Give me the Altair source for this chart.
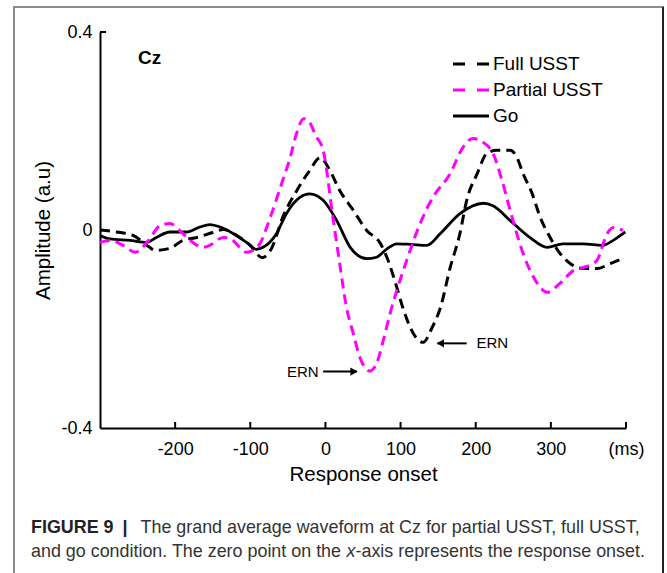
import altair as alt
import pandas as pd

# ---------------- data ----------------
t_full = [-300, -278, -256, -234, -227, -207, -190, -171, -150, -136, -118, -100, -84, -71, -57, -38, -21, -7, 6, 19,
          37, 55, 73, 82, 95, 103, 117, 130, 142, 153, 166, 179, 188, 202, 215, 228, 246, 255, 263, 275,
          286, 299, 312, 326, 343, 361, 379, 395]
v_full = [0.000, -0.004, -0.011, -0.035, -0.041, -0.037, -0.021, -0.015, -0.005, 0.001, -0.011, -0.031, -0.056, -0.035,
          0.025, 0.080, 0.120, 0.146, 0.120, 0.080, 0.040, -0.001, -0.027, -0.056, -0.116, -0.157, -0.209, -0.227,
          -0.197, -0.157, -0.076, -0.007, 0.060, 0.114, 0.155, 0.161, 0.161, 0.146, 0.114, 0.074, 0.025, -0.015,
          -0.047, -0.068, -0.078, -0.078, -0.068, -0.058]

t_partial = [-300, -287, -269, -253, -235, -220, -207, -194, -180, -163, -154, -136, -127, -114, -105, -96, -87, -74,
             -60, -47, -38, -29, -21, -13, -3, 10, 19, 28, 37, 46, 54, 59, 68, 77, 86, 95, 108, 126, 143, 166,
             183, 196, 210, 223, 235, 246, 263, 282, 295, 312, 330, 343, 361, 375, 383, 396]
v_partial = [-0.025, -0.021, -0.031, -0.045, -0.020, 0.009, 0.013, -0.001, -0.021, -0.035, -0.031, -0.015, -0.017,
             -0.035, -0.045, -0.041, -0.027, 0.023, 0.086, 0.146, 0.197, 0.225, 0.217, 0.191, 0.161, 0.025, -0.068,
             -0.156, -0.209, -0.258, -0.280, -0.285, -0.270, -0.223, -0.169, -0.122, -0.062, 0.013, 0.066, 0.114,
             0.167, 0.185, 0.177, 0.155, 0.100, 0.039, -0.047, -0.108, -0.126, -0.108, -0.082, -0.076, -0.062,
             -0.007, 0.005, -0.001]

t_go = [-300, -287, -260, -238, -225, -207, -185, -167, -154, -140, -123, -105, -92, -83, -65, -52, -34, -21, -3, 15,
        33, 55, 68, 82, 95, 113, 135, 153, 179, 210, 223, 246, 272, 295, 316, 343, 369, 383, 399]
v_go = [-0.011, -0.018, -0.021, -0.025, -0.015, -0.004, -0.004, 0.006, 0.011, 0.006, -0.007, -0.025, -0.039, -0.035,
        -0.007, 0.033, 0.066, 0.073, 0.060, 0.019, -0.035, -0.058, -0.055, -0.038, -0.028, -0.029, -0.031, -0.007,
        0.033, 0.054, 0.049, 0.019, -0.015, -0.035, -0.028, -0.028, -0.031, -0.021, -0.004]

series_names = ["Full USST", "Partial USST", "Go"]
x_ticks = [-200, -100, 0, 100, 200, 300, 400]
y_ticks = [-0.4, 0, 0.4]

# ERN annotations (time, amplitude)
ern_arrow_t = [188, 149]      # full: arrow from right to left
ern_arrow_v = [-0.229, -0.229]
ern2_arrow_t = [-3, 42]       # partial: arrow from left to right
ern2_arrow_v = [-0.286, -0.286]

caption1_bold = "FIGURE 9"
caption1_rest = "The grand average waveform at Cz for partial USST, full USST,"
caption2_a = "and go condition. The zero point on the"
caption2_b = "-axis represents the response onset."

FONT = "Liberation Sans"
W, H = 526, 396

xs = alt.Scale(domain=[-300, 400], nice=False, zero=False)
ys = alt.Scale(domain=[-0.4, 0.4], nice=False, zero=False)

x_label_expr = "datum.value == 400 ? '(ms)' : (datum.value < 0 ? '-' : '') + format(abs(datum.value), 'd')"
y_label_expr = "datum.value == 0 ? '0' : (datum.value < 0 ? '-' : '') + format(abs(datum.value), '.1f')"
x_axis = alt.Axis(values=x_ticks, labelExpr=x_label_expr, ticks=False, domainColor="black", domainWidth=2,
                  labelFont=FONT, labelFontSize=18, labelColor="black", labelPadding=12,
                  title="Response onset", titleFont=FONT, titleFontSize=20.5, titleFontWeight="normal",
                  titleColor="black", titlePadding=6, grid=False, labelFlush=False)
y_axis = alt.Axis(values=y_ticks, labelExpr=y_label_expr, ticks=False, domainColor="black", domainWidth=2,
                  labelFont=FONT, labelFontSize=18, labelColor="black", labelPadding=8,
                  title="Amplitude (a.u)", titleFont=FONT, titleFontSize=20.5, titleFontWeight="normal",
                  titleColor="black", titlePadding=7, grid=False, labelFlush=False)


def X():
    return alt.X("t:Q", scale=xs, axis=x_axis)


def Y():
    return alt.Y("v:Q", scale=ys, axis=y_axis)


def line_layer(t, v, color, dash=None, width=3.0):
    df = pd.DataFrame({"t": t, "v": v})
    kw = dict(color=color, strokeWidth=width, interpolate="monotone")
    if dash:
        kw["strokeDash"] = dash
    return alt.Chart(df).mark_line(**kw).encode(x=X(), y=Y())


# inward tick marks
xtick_df = pd.DataFrame({"t": x_ticks})
xtick_layer = alt.Chart(xtick_df).mark_rule(color="black", strokeWidth=2).encode(
    x=X(), y=alt.value(H), y2=alt.value(H - 6))
ytick_df = pd.DataFrame({"v": [0, 0.4]})
ytick_layer = alt.Chart(ytick_df).mark_rule(color="black", strokeWidth=2).encode(
    y=Y(), x=alt.value(0), x2=alt.value(6))

full = line_layer(t_full, v_full, "black", dash=[10, 6])
partial = line_layer(t_partial, v_partial, "#ff00ff", dash=[10, 6])
go = line_layer(t_go, v_go, "black", width=2.8)


def arrow(t, v, head_t, shape):
    df = pd.DataFrame({"t": t, "v": v})
    shaft = alt.Chart(df).mark_line(color="black", strokeWidth=2).encode(x=X(), y=Y())
    hdf = pd.DataFrame({"t": [head_t], "v": [v[0]]})
    head = alt.Chart(hdf).mark_point(shape=shape, filled=True, color="black", size=70, opacity=1).encode(
        x=X(), y=Y())
    return shaft + head


arrow1 = arrow(ern_arrow_t, ern_arrow_v, ern_arrow_t[1] + 4, "triangle-left")
arrow2 = arrow(ern2_arrow_t, ern2_arrow_v, ern2_arrow_t[1] - 4, "triangle-right")

ern_text1 = alt.Chart(pd.DataFrame({"t": [201], "v": [ern_arrow_v[0]], "s": ["ERN"]})).mark_text(
    align="left", baseline="middle", font=FONT, fontSize=15, color="black").encode(x=X(), y=Y(), text="s:N")
ern_text2 = alt.Chart(pd.DataFrame({"t": [-9], "v": [ern2_arrow_v[0]], "s": ["ERN"]})).mark_text(
    align="right", baseline="middle", font=FONT, fontSize=15, color="black").encode(x=X(), y=Y(), text="s:N")

# "Cz" label
cz = alt.Chart(pd.DataFrame({"s": ["Cz"]})).mark_text(
    align="left", baseline="middle", font=FONT, fontSize=19, fontWeight="bold", color="black").encode(
    x=alt.value(38), y=alt.value(26), text="s:N")

# legend (manual)
leg_y = [32, 58, 84]
leg_layers = []
leg_styles = [("black", [12, 12]), ("#ff00ff", [12, 12]), ("black", None)]
for name, yy, (col, dash) in zip(series_names, leg_y, leg_styles):
    kw = dict(color=col, strokeWidth=3)
    if dash:
        kw["strokeDash"] = dash
    leg_layers.append(alt.Chart(pd.DataFrame({"s": [name]})).mark_rule(**kw).encode(
        x=alt.value(353), x2=alt.value(389), y=alt.value(yy)))
    leg_layers.append(alt.Chart(pd.DataFrame({"s": [name]})).mark_text(
        align="left", baseline="middle", font=FONT, fontSize=19, color="black").encode(
        x=alt.value(393), y=alt.value(yy), text="s:N"))

# frame around the figure
frame_df = pd.DataFrame({"s": ["frame"]})
frame = alt.Chart(frame_df).mark_rect(fillOpacity=0, stroke="#8c8c8c", strokeWidth=2).encode(
    x=alt.value(-86), x2=alt.value(563), y=alt.value(-25), y2=alt.value(560))
frame_right = alt.Chart(frame_df).mark_rect(color="#222222").encode(
    x=alt.value(562), x2=alt.value(564), y=alt.value(-25), y2=alt.value(560))

# caption
CAP = 17.9
CAPC = "#333333"
cap1a = alt.Chart(pd.DataFrame({"s": [caption1_bold]})).mark_text(
    align="left", baseline="middle", font=FONT, fontSize=CAP, fontWeight="bold", color="#222222").encode(
    x=alt.value(-69), y=alt.value(496), text="s:N")
cap1bar = alt.Chart(pd.DataFrame({"s": ["|"]})).mark_text(
    align="center", baseline="middle", font=FONT, fontSize=CAP, fontWeight="bold", color="#222222").encode(
    x=alt.value(25), y=alt.value(496), text="s:N")
cap1b = alt.Chart(pd.DataFrame({"s": [caption1_rest]})).mark_text(
    align="left", baseline="middle", font=FONT, fontSize=CAP, color=CAPC).encode(
    x=alt.value(40.5), y=alt.value(496), text="s:N")
cap2a = alt.Chart(pd.DataFrame({"s": [caption2_a]})).mark_text(
    align="left", baseline="middle", font=FONT, fontSize=CAP, color=CAPC).encode(
    x=alt.value(-69), y=alt.value(520), text="s:N")
cap2x = alt.Chart(pd.DataFrame({"s": ["x"]})).mark_text(
    align="left", baseline="middle", font=FONT, fontSize=CAP, fontStyle="italic", color=CAPC).encode(
    x=alt.value(246.5), y=alt.value(520), text="s:N")
cap2b = alt.Chart(pd.DataFrame({"s": [caption2_b]})).mark_text(
    align="left", baseline="middle", font=FONT, fontSize=CAP, color=CAPC).encode(
    x=alt.value(255.5), y=alt.value(520), text="s:N")

chart = alt.layer(
    go, full, partial, xtick_layer, ytick_layer, arrow1, arrow2, ern_text1, ern_text2, cz,
    *leg_layers, frame, frame_right, cap1a, cap1bar, cap1b, cap2a, cap2x, cap2b
).properties(
    width=W, height=H,
    autosize=alt.AutoSizeParams(type="none"),
    padding={"left": 100, "top": 32, "right": 41, "bottom": 145},
    background="white",
).configure_view(stroke=None)

chart.save("out.html", embed_options={"renderer": "svg", "actions": False})
